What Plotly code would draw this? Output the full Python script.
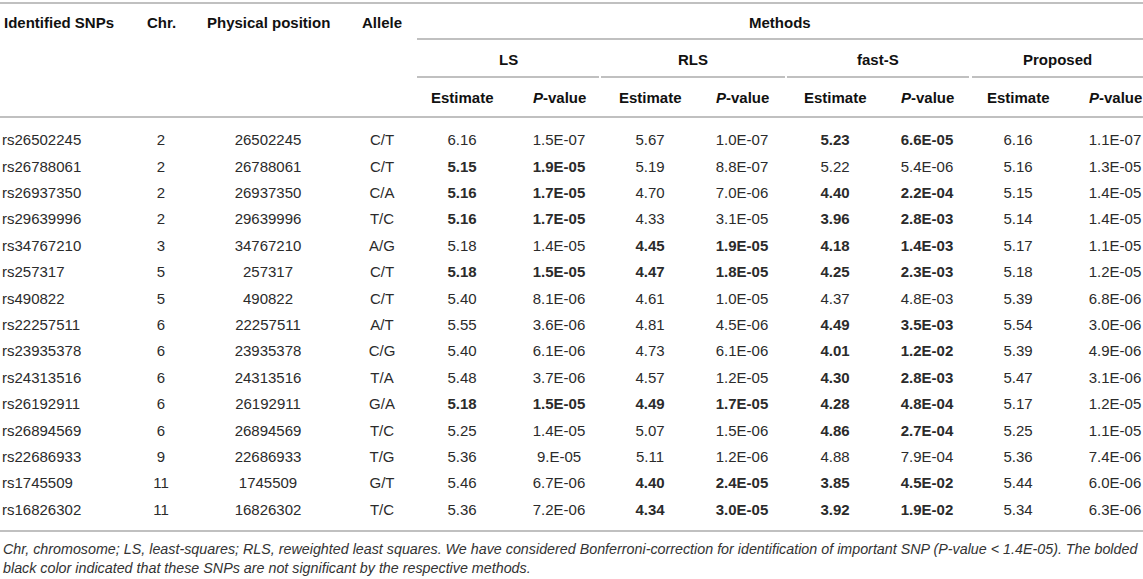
import plotly.graph_objects as go

# table data
snps = ['rs26502245', 'rs26788061', 'rs26937350', 'rs29639996', 'rs34767210', 'rs257317', 'rs490822',
        'rs22257511', 'rs23935378', 'rs24313516', 'rs26192911', 'rs26894569', 'rs22686933', 'rs1745509',
        'rs16826302']
chromosomes = [2, 2, 2, 2, 3, 5, 5, 6, 6, 6, 6, 6, 9, 11, 11]
positions = [26502245, 26788061, 26937350, 29639996, 34767210, 257317, 490822, 22257511, 23935378,
             24313516, 26192911, 26894569, 22686933, 1745509, 16826302]
alleles = ['C/T', 'C/T', 'C/A', 'T/C', 'A/G', 'C/T', 'C/T', 'A/T', 'C/G', 'T/A', 'G/A', 'T/C', 'T/G',
           'G/T', 'T/C']

ls_est = [6.16, 5.15, 5.16, 5.16, 5.18, 5.18, 5.40, 5.55, 5.40, 5.48, 5.18, 5.25, 5.36, 5.46, 5.36]
ls_p = ['1.5E-07', '1.9E-05', '1.7E-05', '1.7E-05', '1.4E-05', '1.5E-05', '8.1E-06', '3.6E-06', '6.1E-06',
        '3.7E-06', '1.5E-05', '1.4E-05', '9.E-05', '6.7E-06', '7.2E-06']
rls_est = [5.67, 5.19, 4.70, 4.33, 4.45, 4.47, 4.61, 4.81, 4.73, 4.57, 4.49, 5.07, 5.11, 4.40, 4.34]
rls_p = ['1.0E-07', '8.8E-07', '7.0E-06', '3.1E-05', '1.9E-05', '1.8E-05', '1.0E-05', '4.5E-06', '6.1E-06',
         '1.2E-05', '1.7E-05', '1.5E-06', '1.2E-06', '2.4E-05', '3.0E-05']
fasts_est = [5.23, 5.22, 4.40, 3.96, 4.18, 4.25, 4.37, 4.49, 4.01, 4.30, 4.28, 4.86, 4.88, 3.85, 3.92]
fasts_p = ['6.6E-05', '5.4E-06', '2.2E-04', '2.8E-03', '1.4E-03', '2.3E-03', '4.8E-03', '3.5E-03', '1.2E-02',
           '2.8E-03', '4.8E-04', '2.7E-04', '7.9E-04', '4.5E-02', '1.9E-02']
prop_est = [6.16, 5.16, 5.15, 5.14, 5.17, 5.18, 5.39, 5.54, 5.39, 5.47, 5.17, 5.25, 5.36, 5.44, 5.34]
prop_p = ['1.1E-07', '1.3E-05', '1.4E-05', '1.4E-05', '1.1E-05', '1.2E-05', '6.8E-06', '3.0E-06', '4.9E-06',
          '3.1E-06', '1.2E-05', '1.1E-05', '7.4E-06', '6.0E-06', '6.3E-06']

# rows (1-based) printed in bold for each method (not significant)
ls_bold = [2, 3, 4, 6, 11]
rls_bold = [5, 6, 11, 14, 15]
fasts_bold = [1, 3, 4, 5, 6, 8, 9, 10, 11, 12, 14, 15]
prop_bold = []

methods = ['LS', 'RLS', 'fast-S', 'Proposed']
footnote = ['Chr, chromosome; LS, least-squares; RLS, reweighted least squares. We have considered '
            'Bonferroni-correction for identification of important SNP (P-value < 1.4E-05). The bolded',
            'black color indicated that these SNPs are not significant by the respective methods.']

# layout of the table in pixel units
W, H = 1143, 579
FONT = 'Liberation Sans, Arial, sans-serif'
LINE = '#ababab'
TXT = '#2b2b2b'
row_y0, row_step = 141.5, 26.4
col_x = {'chr': 161, 'pos': 268, 'allele': 382}
method_x = [(462, 559), (650, 742), (835, 927), (1018, 1115)]
group_span = [(417, 599), (601, 785), (787, 969), (972, W)]

row_y = [row_y0 + i * row_step for i in range(len(snps))]


def text_col(x, values, pos='middle center', color=TXT):
    return go.Scatter(x=[x] * len(values), y=row_y, mode='text', text=values, textposition=pos,
                      textfont=dict(family=FONT, size=15, color=color), hoverinfo='skip', showlegend=False,
                      cliponaxis=False)


def bolden(values, rows):
    return ['<b>%s</b>' % v if i + 1 in rows else v for i, v in enumerate(values)]


fig = go.Figure()

# plain columns
fig.add_trace(text_col(2, snps, pos='middle right'))
fig.add_trace(text_col(col_x['chr'], [str(c) for c in chromosomes]))
fig.add_trace(text_col(col_x['pos'], [str(p) for p in positions]))
fig.add_trace(text_col(col_x['allele'], alleles))

# method columns
method_data = [(ls_est, ls_p, ls_bold), (rls_est, rls_p, rls_bold),
               (fasts_est, fasts_p, fasts_bold), (prop_est, prop_p, prop_bold)]
for (xe, xp), (est, pv, bold) in zip(method_x, method_data):
    fig.add_trace(text_col(xe, bolden(['%.2f' % e for e in est], bold)))
    fig.add_trace(text_col(xp, bolden(pv, bold)))

# header texts
hdr = dict(font=dict(family=FONT, size=15, color='#111111'), showarrow=False, yanchor='middle')
fig.add_annotation(x=2, y=22, text='<b>Identified SNPs</b>', xanchor='left', **hdr)
fig.add_annotation(x=col_x['chr'], y=22, text='<b>Chr.</b>', **hdr)
fig.add_annotation(x=col_x['pos'], y=22, text='<b>Physical position</b>', **hdr)
fig.add_annotation(x=col_x['allele'], y=22, text='<b>Allele</b>', **hdr)
fig.add_annotation(x=(group_span[0][0] + W) / 2, y=22, text='<b>Methods</b>', **hdr)
for name, (a, b), (xe, xp) in zip(methods, group_span, method_x):
    fig.add_annotation(x=(a + b) / 2, y=59, text='<b>%s</b>' % name, **hdr)
    fig.add_annotation(x=xe, y=97, text='<b>Estimate</b>', **hdr)
    fig.add_annotation(x=xp, y=97, text='<b><i>P</i>-value</b>', **hdr)

# rules
rule = dict(type='line', line=dict(color=LINE, width=1.6), layer='below')
fig.add_shape(x0=0, x1=W, y0=3, y1=3, **rule)
fig.add_shape(x0=group_span[0][0], x1=W, y0=39, y1=39, **rule)
for a, b in group_span:
    fig.add_shape(x0=a, x1=b, y0=77, y1=77, **rule)
fig.add_shape(x0=0, x1=W, y0=117, y1=117, **rule)
fig.add_shape(x0=0, x1=W, y0=531, y1=531, **rule)

# footnote
for i, line in enumerate(footnote):
    fig.add_annotation(x=1, y=549 + i * 19, text='<i>%s</i>' % line, xanchor='left', yanchor='middle',
                       showarrow=False, font=dict(family=FONT, size=14.3, color='#333333'))

fig.update_xaxes(range=[0, W], visible=False, fixedrange=True)
fig.update_yaxes(range=[H, 0], visible=False, fixedrange=True)
fig.update_layout(width=W, height=H, margin=dict(l=0, r=0, t=0, b=0),
                  plot_bgcolor='white', paper_bgcolor='white')
# drop the default page margin so the table sits at the window's top-left corner
fig.write_html("out.html", config={'displayModeBar': False},
               post_script="document.body.style.margin='0'; document.body.style.overflow='hidden';")
